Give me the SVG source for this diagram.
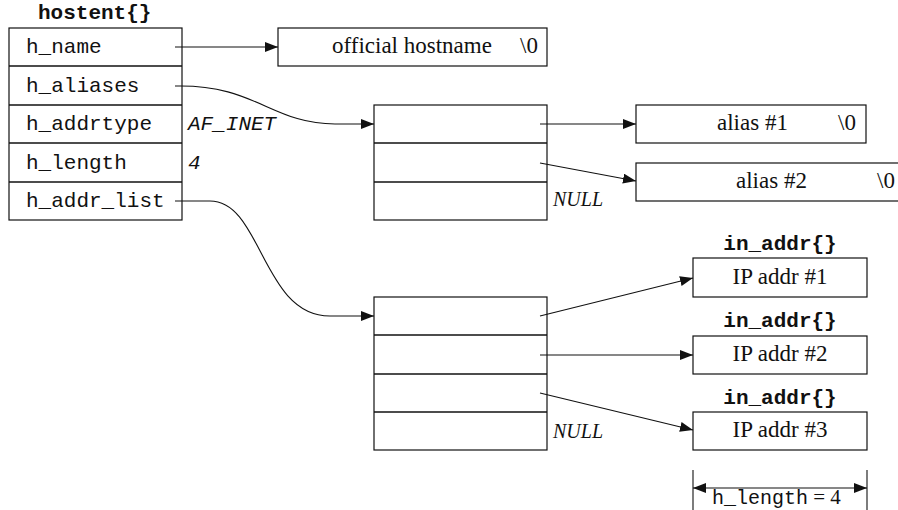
<svg xmlns="http://www.w3.org/2000/svg" width="898" height="510" viewBox="0 0 898 510">
<style>
.box{fill:#fff;stroke:#111;stroke-width:1.2}
.sep{stroke:#111;stroke-width:1.4}
.mono{font-family:"Liberation Mono",monospace;font-size:21px;fill:#111}
.bold{font-weight:bold}
.it{font-style:italic}
.serif{font-family:"Liberation Serif",serif;font-size:23px;fill:#111}
.null{font-family:"Liberation Serif",serif;font-size:20px;font-style:italic;fill:#111}
.con{fill:none;stroke:#111;stroke-width:1.1}
</style>
<defs>
<marker id="ah" markerUnits="userSpaceOnUse" markerWidth="14" markerHeight="12" refX="13" refY="5" orient="auto-start-reverse">
<path d="M0,0 L13,5 L0,10 z" fill="#111"/>
</marker>
</defs>
<rect width="898" height="510" fill="#fff"/>

<g id="hostent">
<text class="mono bold" x="38" y="19">hostent{}</text>
<rect class="box" x="9" y="28" width="173" height="192"/>
<line class="sep" x1="9" y1="66" x2="182" y2="66"/>
<line class="sep" x1="9" y1="105" x2="182" y2="105"/>
<line class="sep" x1="9" y1="143" x2="182" y2="143"/>
<line class="sep" x1="9" y1="182" x2="182" y2="182"/>
<text class="mono" x="26" y="53">h_name</text>
<text class="mono" x="26" y="92">h_aliases</text>
<text class="mono" x="26" y="130">h_addrtype</text>
<text class="mono" x="26" y="169">h_length</text>
<text class="mono" x="26" y="207">h_addr_list</text>
<text class="mono it" x="188" y="130">AF_INET</text>
<text class="mono it" x="188" y="169">4</text>
</g>

<g id="hostname">
<rect class="box" x="278" y="28" width="269" height="38"/>
<text class="serif" x="332" y="53">official hostname</text>
<text class="serif" x="520" y="53">\0</text>
</g>

<g id="aliasarray">
<rect class="box" x="374" y="105" width="173" height="115"/>
<line class="sep" x1="374" y1="143" x2="547" y2="143"/>
<line class="sep" x1="374" y1="182" x2="547" y2="182"/>
<text class="null" x="553" y="206">NULL</text>
</g>

<g id="alias1">
<rect class="box" x="636" y="105" width="230" height="38"/>
<text class="serif" x="717" y="130">alias #1</text>
<text class="serif" x="838" y="130">\0</text>
</g>

<g id="alias2">
<rect class="box" x="636" y="163" width="280" height="38"/>
<text class="serif" x="736" y="188">alias #2</text>
<text class="serif" x="877" y="188">\0</text>
</g>

<g id="addrarray">
<rect class="box" x="374" y="297" width="173" height="153"/>
<line class="sep" x1="374" y1="335" x2="547" y2="335"/>
<line class="sep" x1="374" y1="374" x2="547" y2="374"/>
<line class="sep" x1="374" y1="412" x2="547" y2="412"/>
<text class="null" x="553" y="438">NULL</text>
</g>

<g id="ip1">
<text class="mono bold" x="780" y="250" text-anchor="middle">in_addr{}</text>
<rect class="box" x="693" y="258" width="174" height="39"/>
<text class="serif" x="780" y="284" text-anchor="middle">IP addr #1</text>
</g>
<g id="ip2">
<text class="mono bold" x="780" y="327" text-anchor="middle">in_addr{}</text>
<rect class="box" x="693" y="336" width="174" height="38"/>
<text class="serif" x="780" y="361" text-anchor="middle">IP addr #2</text>
</g>
<g id="ip3">
<text class="mono bold" x="780" y="404" text-anchor="middle">in_addr{}</text>
<rect class="box" x="693" y="412" width="174" height="38"/>
<text class="serif" x="780" y="437" text-anchor="middle">IP addr #3</text>
</g>

<g id="dimension">
<line class="con" x1="693" y1="470" x2="693" y2="510"/>
<line class="con" x1="867" y1="470" x2="867" y2="510"/>
<line class="con" x1="693" y1="488" x2="867" y2="488" marker-start="url(#ah)" marker-end="url(#ah)"/>
<text x="712" y="504"><tspan class="mono" style="font-size:20px">h_length</tspan><tspan class="serif" style="font-size:21px"> = 4</tspan></text>
</g>

<g id="connectors">
<line class="con" x1="175" y1="47" x2="278" y2="47" marker-end="url(#ah)"/>
<path class="con" d="M175,86 C255,84 272,124 335,124 L374,124" marker-end="url(#ah)"/>
<path class="con" d="M175,201 L210,201 C262,201 262,316 330,316 L374,316" marker-end="url(#ah)"/>
<line class="con" x1="540" y1="124" x2="636" y2="124" marker-end="url(#ah)"/>
<line class="con" x1="540" y1="163" x2="636" y2="181" marker-end="url(#ah)"/>
<line class="con" x1="540" y1="316" x2="693" y2="278" marker-end="url(#ah)"/>
<line class="con" x1="540" y1="355" x2="693" y2="355" marker-end="url(#ah)"/>
<line class="con" x1="540" y1="393" x2="693" y2="430" marker-end="url(#ah)"/>
</g>
</svg>
